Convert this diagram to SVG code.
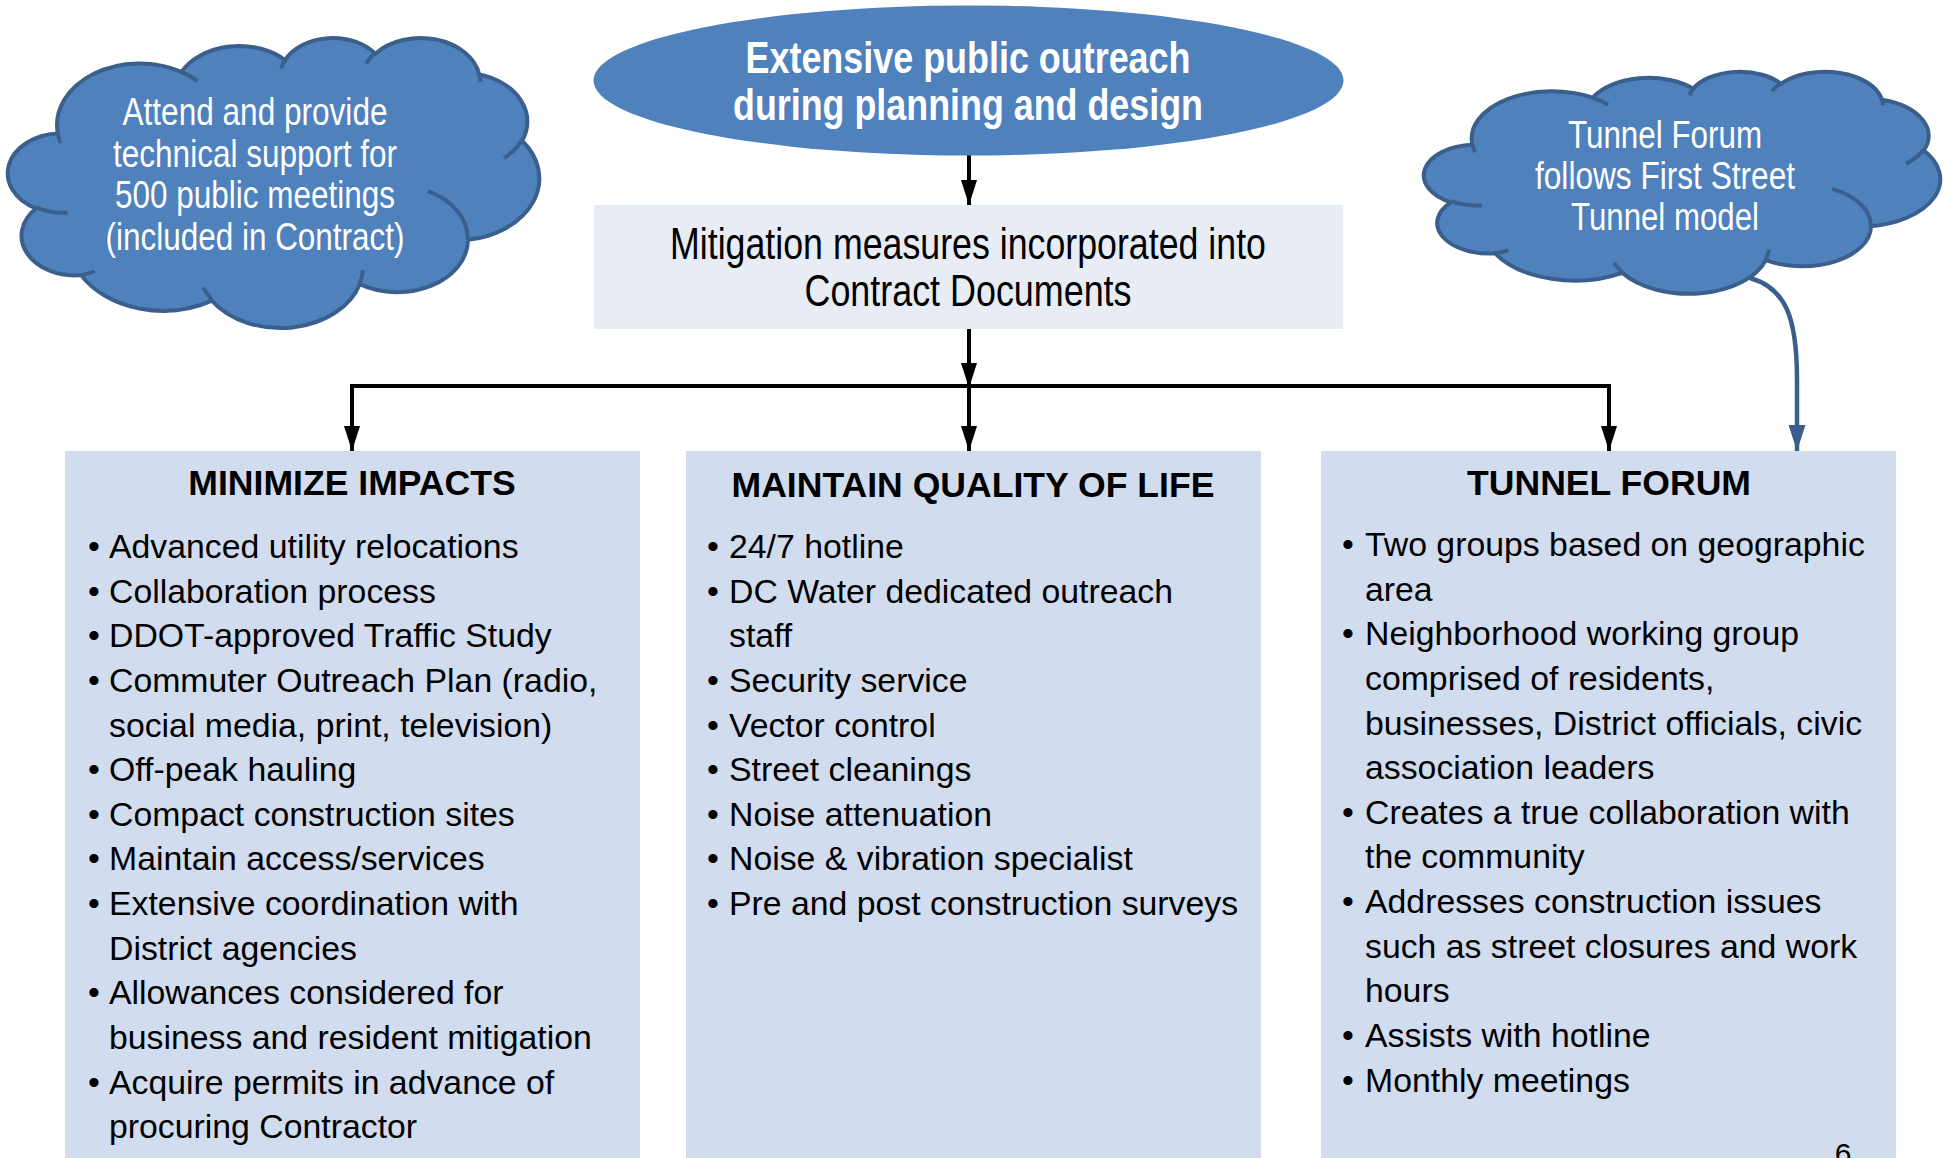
<svg xmlns="http://www.w3.org/2000/svg" width="1948" height="1158" viewBox="0 0 1948 1158">
<style>
text { font-family: "Liberation Sans", Arial, sans-serif; fill: #000; }
.cloud { fill: #4F81BD; stroke: #3A5F8C; stroke-width: 4; stroke-linejoin: round; }
.crease { fill: none; stroke: #3A5F8C; stroke-width: 4; }
.ctext { fill: #fff; font-size: 38.5px; text-anchor: middle; }
.etext { fill: #fff; font-size: 43.5px; font-weight: bold; text-anchor: middle; }
.mtext { font-size: 43.5px; text-anchor: middle; }
.box { fill: #D1DCEE; }
.head { font-size: 35.6px; font-weight: bold; text-anchor: middle; }
.body { font-size: 33.8px; }
.bul { font-size: 33.8px; text-anchor: middle; }
.conn { fill: none; stroke: #000; stroke-width: 4; }
.bconn { fill: none; stroke: #3A5F8C; stroke-width: 4.5; }
</style>
<defs>
<marker id="ah" viewBox="0 0 10 10" refX="10" refY="5" markerUnits="userSpaceOnUse" markerWidth="25" markerHeight="16" orient="auto" preserveAspectRatio="none">
<path d="M0,0 L10,5 L0,10 Z" fill="#000"/>
</marker>
<marker id="ahb" viewBox="0 0 10 10" refX="10" refY="5" markerUnits="userSpaceOnUse" markerWidth="26" markerHeight="17" orient="auto" preserveAspectRatio="none">
<path d="M0,0 L10,5 L0,10 Z" fill="#3A5F8C"/>
</marker>
<path id="cloudShape" vector-effect="non-scaling-stroke" d="M9.03,33.26 A15.63,21.27 0 0 1 32.42,12.04 A12.34,16.82 0 0 1 51.99,7.95 A10.10,13.76 0 0 1 69.06,5.75 A11.24,15.27 0 0 1 88.70,12.91 A12.34,16.84 0 0 1 96.81,35.79 A15.68,21.34 0 0 1 86.59,69.92 A13.39,18.21 0 0 1 66.11,85.22 A15.63,21.33 0 0 1 38.16,90.90 A17.87,24.41 0 0 1 13.44,82.11 A10.09,13.70 0 0 1 4.90,59.14 A10.06,13.76 0 0 1 9.03,33.26 Z"/>
<path id="cloudCrease" vector-effect="non-scaling-stroke" d="M10.86,60.59 A10.06,13.76 0 0 1 5.00,58.75 M16.04,80.78 A10.09,13.70 0 0 1 13.44,82.11 M38.14,90.49 A15.63,21.33 0 0 1 36.59,86.45 M66.73,80.44 A15.63,21.33 0 0 1 66.11,84.86 M79.00,53.13 A13.39,18.21 0 0 1 86.53,69.65 M96.75,35.54 A12.34,16.84 0 0 1 93.40,41.74 M88.71,12.56 A11.24,15.27 0 0 1 88.89,15.49 M67.31,9.15 A11.24,15.27 0 0 1 69.03,5.42 M51.25,10.93 A10.10,13.76 0 0 1 52.08,7.71 M32.41,12.02 A15.63,21.27 0 0 1 35.42,15.14 M9.55,36.55 A15.63,21.27 0 0 1 9.03,33.26"/>
</defs>

<g id="connectors">
<path class="conn" d="M969,155 L969,205" marker-end="url(#ah)"/>
<path class="conn" d="M969,329 L969,388" marker-end="url(#ah)"/>
<path class="conn" d="M969,386 L352,386 L352,451" marker-end="url(#ah)"/>
<path class="conn" d="M969,386 L969,451" marker-end="url(#ah)"/>
<path class="conn" d="M969,386 L1609,386 L1609,451" marker-end="url(#ah)"/>
<path class="bconn" d="M1750,278 C1786,288 1797,318 1797,380 L1797,451" marker-end="url(#ahb)"/>
</g>

<g id="cloud-left">
<g transform="translate(10,37) scale(5.29,2.90)">
<use href="#cloudShape" class="cloud"/>
<use href="#cloudCrease" class="crease"/>
</g>
<text class="ctext"><tspan x="255" y="125" textLength="265" lengthAdjust="spacingAndGlyphs">Attend and provide</tspan><tspan x="255" y="166.5" textLength="284" lengthAdjust="spacingAndGlyphs">technical support for</tspan><tspan x="255" y="208" textLength="280" lengthAdjust="spacingAndGlyphs">500 public meetings</tspan><tspan x="255" y="249.5" textLength="299" lengthAdjust="spacingAndGlyphs">(included in Contract)</tspan></text>
</g>

<g id="cloud-right">
<g transform="translate(1426,71) scale(5.14,2.22)">
<use href="#cloudShape" class="cloud"/>
<use href="#cloudCrease" class="crease"/>
</g>
<text class="ctext"><tspan x="1665" y="148" textLength="194" lengthAdjust="spacingAndGlyphs">Tunnel Forum</tspan><tspan x="1665" y="189" textLength="260" lengthAdjust="spacingAndGlyphs">follows First Street</tspan><tspan x="1665" y="230" textLength="188" lengthAdjust="spacingAndGlyphs">Tunnel model</tspan></text>
</g>

<g id="outreach">
<ellipse cx="968.5" cy="80.5" rx="375" ry="75" fill="#4F81BD"/>
<text class="etext"><tspan x="968" y="72.5" textLength="445" lengthAdjust="spacingAndGlyphs">Extensive public outreach</tspan><tspan x="968" y="119.5" textLength="470" lengthAdjust="spacingAndGlyphs">during planning and design</tspan></text>
</g>

<g id="mitigation">
<rect x="594" y="205" width="749" height="124" fill="#E8ECF5"/>
<text class="mtext"><tspan x="968" y="258.5" textLength="596" lengthAdjust="spacingAndGlyphs">Mitigation measures incorporated into</tspan><tspan x="968" y="305.5" textLength="327" lengthAdjust="spacingAndGlyphs">Contract Documents</tspan></text>
</g>

<g id="minimize-impacts">
<rect class="box" x="65" y="451" width="575" height="707"/>
<text class="head" x="352" y="495">MINIMIZE IMPACTS</text>
<text class="bul"><tspan x="94" y="558">•</tspan><tspan x="94" y="602.6">•</tspan><tspan x="94" y="647.3">•</tspan><tspan x="94" y="691.9">•</tspan><tspan x="94" y="781.2">•</tspan><tspan x="94" y="825.8">•</tspan><tspan x="94" y="870.4">•</tspan><tspan x="94" y="915">•</tspan><tspan x="94" y="1004.3">•</tspan><tspan x="94" y="1093.6">•</tspan></text>
<text class="body"><tspan x="109" y="558">Advanced utility relocations</tspan><tspan x="109" y="602.6">Collaboration process</tspan><tspan x="109" y="647.3">DDOT-approved Traffic Study</tspan><tspan x="109" y="691.9">Commuter Outreach Plan (radio,</tspan><tspan x="109" y="736.5">social media, print, television)</tspan><tspan x="109" y="781.2">Off-peak hauling</tspan><tspan x="109" y="825.8">Compact construction sites</tspan><tspan x="109" y="870.4">Maintain access/services</tspan><tspan x="109" y="915">Extensive coordination with</tspan><tspan x="109" y="959.7">District agencies</tspan><tspan x="109" y="1004.3">Allowances considered for</tspan><tspan x="109" y="1048.9">business and resident mitigation</tspan><tspan x="109" y="1093.6">Acquire permits in advance of</tspan><tspan x="109" y="1138.2">procuring Contractor</tspan></text>
</g>

<g id="quality-of-life">
<rect class="box" x="686" y="451" width="575" height="707"/>
<text class="head" x="973" y="497">MAINTAIN QUALITY OF LIFE</text>
<text class="bul"><tspan x="713" y="558">•</tspan><tspan x="713" y="602.6">•</tspan><tspan x="713" y="691.9">•</tspan><tspan x="713" y="736.5">•</tspan><tspan x="713" y="781.2">•</tspan><tspan x="713" y="825.8">•</tspan><tspan x="713" y="870.4">•</tspan><tspan x="713" y="915">•</tspan></text>
<text class="body"><tspan x="729" y="558">24/7 hotline</tspan><tspan x="729" y="602.6">DC Water dedicated outreach</tspan><tspan x="729" y="647.3">staff</tspan><tspan x="729" y="691.9">Security service</tspan><tspan x="729" y="736.5">Vector control</tspan><tspan x="729" y="781.2">Street cleanings</tspan><tspan x="729" y="825.8">Noise attenuation</tspan><tspan x="729" y="870.4">Noise &amp; vibration specialist</tspan><tspan x="729" y="915">Pre and post construction surveys</tspan></text>
</g>

<g id="tunnel-forum">
<rect class="box" x="1321" y="451" width="575" height="707"/>
<text class="head" x="1609" y="495">TUNNEL FORUM</text>
<text class="bul"><tspan x="1348" y="556">•</tspan><tspan x="1348" y="645.3">•</tspan><tspan x="1348" y="823.8">•</tspan><tspan x="1348" y="913">•</tspan><tspan x="1348" y="1046.9">•</tspan><tspan x="1348" y="1091.6">•</tspan></text>
<text class="body"><tspan x="1365" y="556">Two groups based on geographic</tspan><tspan x="1365" y="600.6">area</tspan><tspan x="1365" y="645.3">Neighborhood working group</tspan><tspan x="1365" y="689.9">comprised of residents,</tspan><tspan x="1365" y="734.5">businesses, District officials, civic</tspan><tspan x="1365" y="779.2">association leaders</tspan><tspan x="1365" y="823.8">Creates a true collaboration with</tspan><tspan x="1365" y="868.4">the community</tspan><tspan x="1365" y="913">Addresses construction issues</tspan><tspan x="1365" y="957.7">such as street closures and work</tspan><tspan x="1365" y="1002.3">hours</tspan><tspan x="1365" y="1046.9">Assists with hotline</tspan><tspan x="1365" y="1091.6">Monthly meetings</tspan></text>
<text x="1843" y="1164" style="font-size:30px" text-anchor="middle">6</text>
</g>
</svg>
